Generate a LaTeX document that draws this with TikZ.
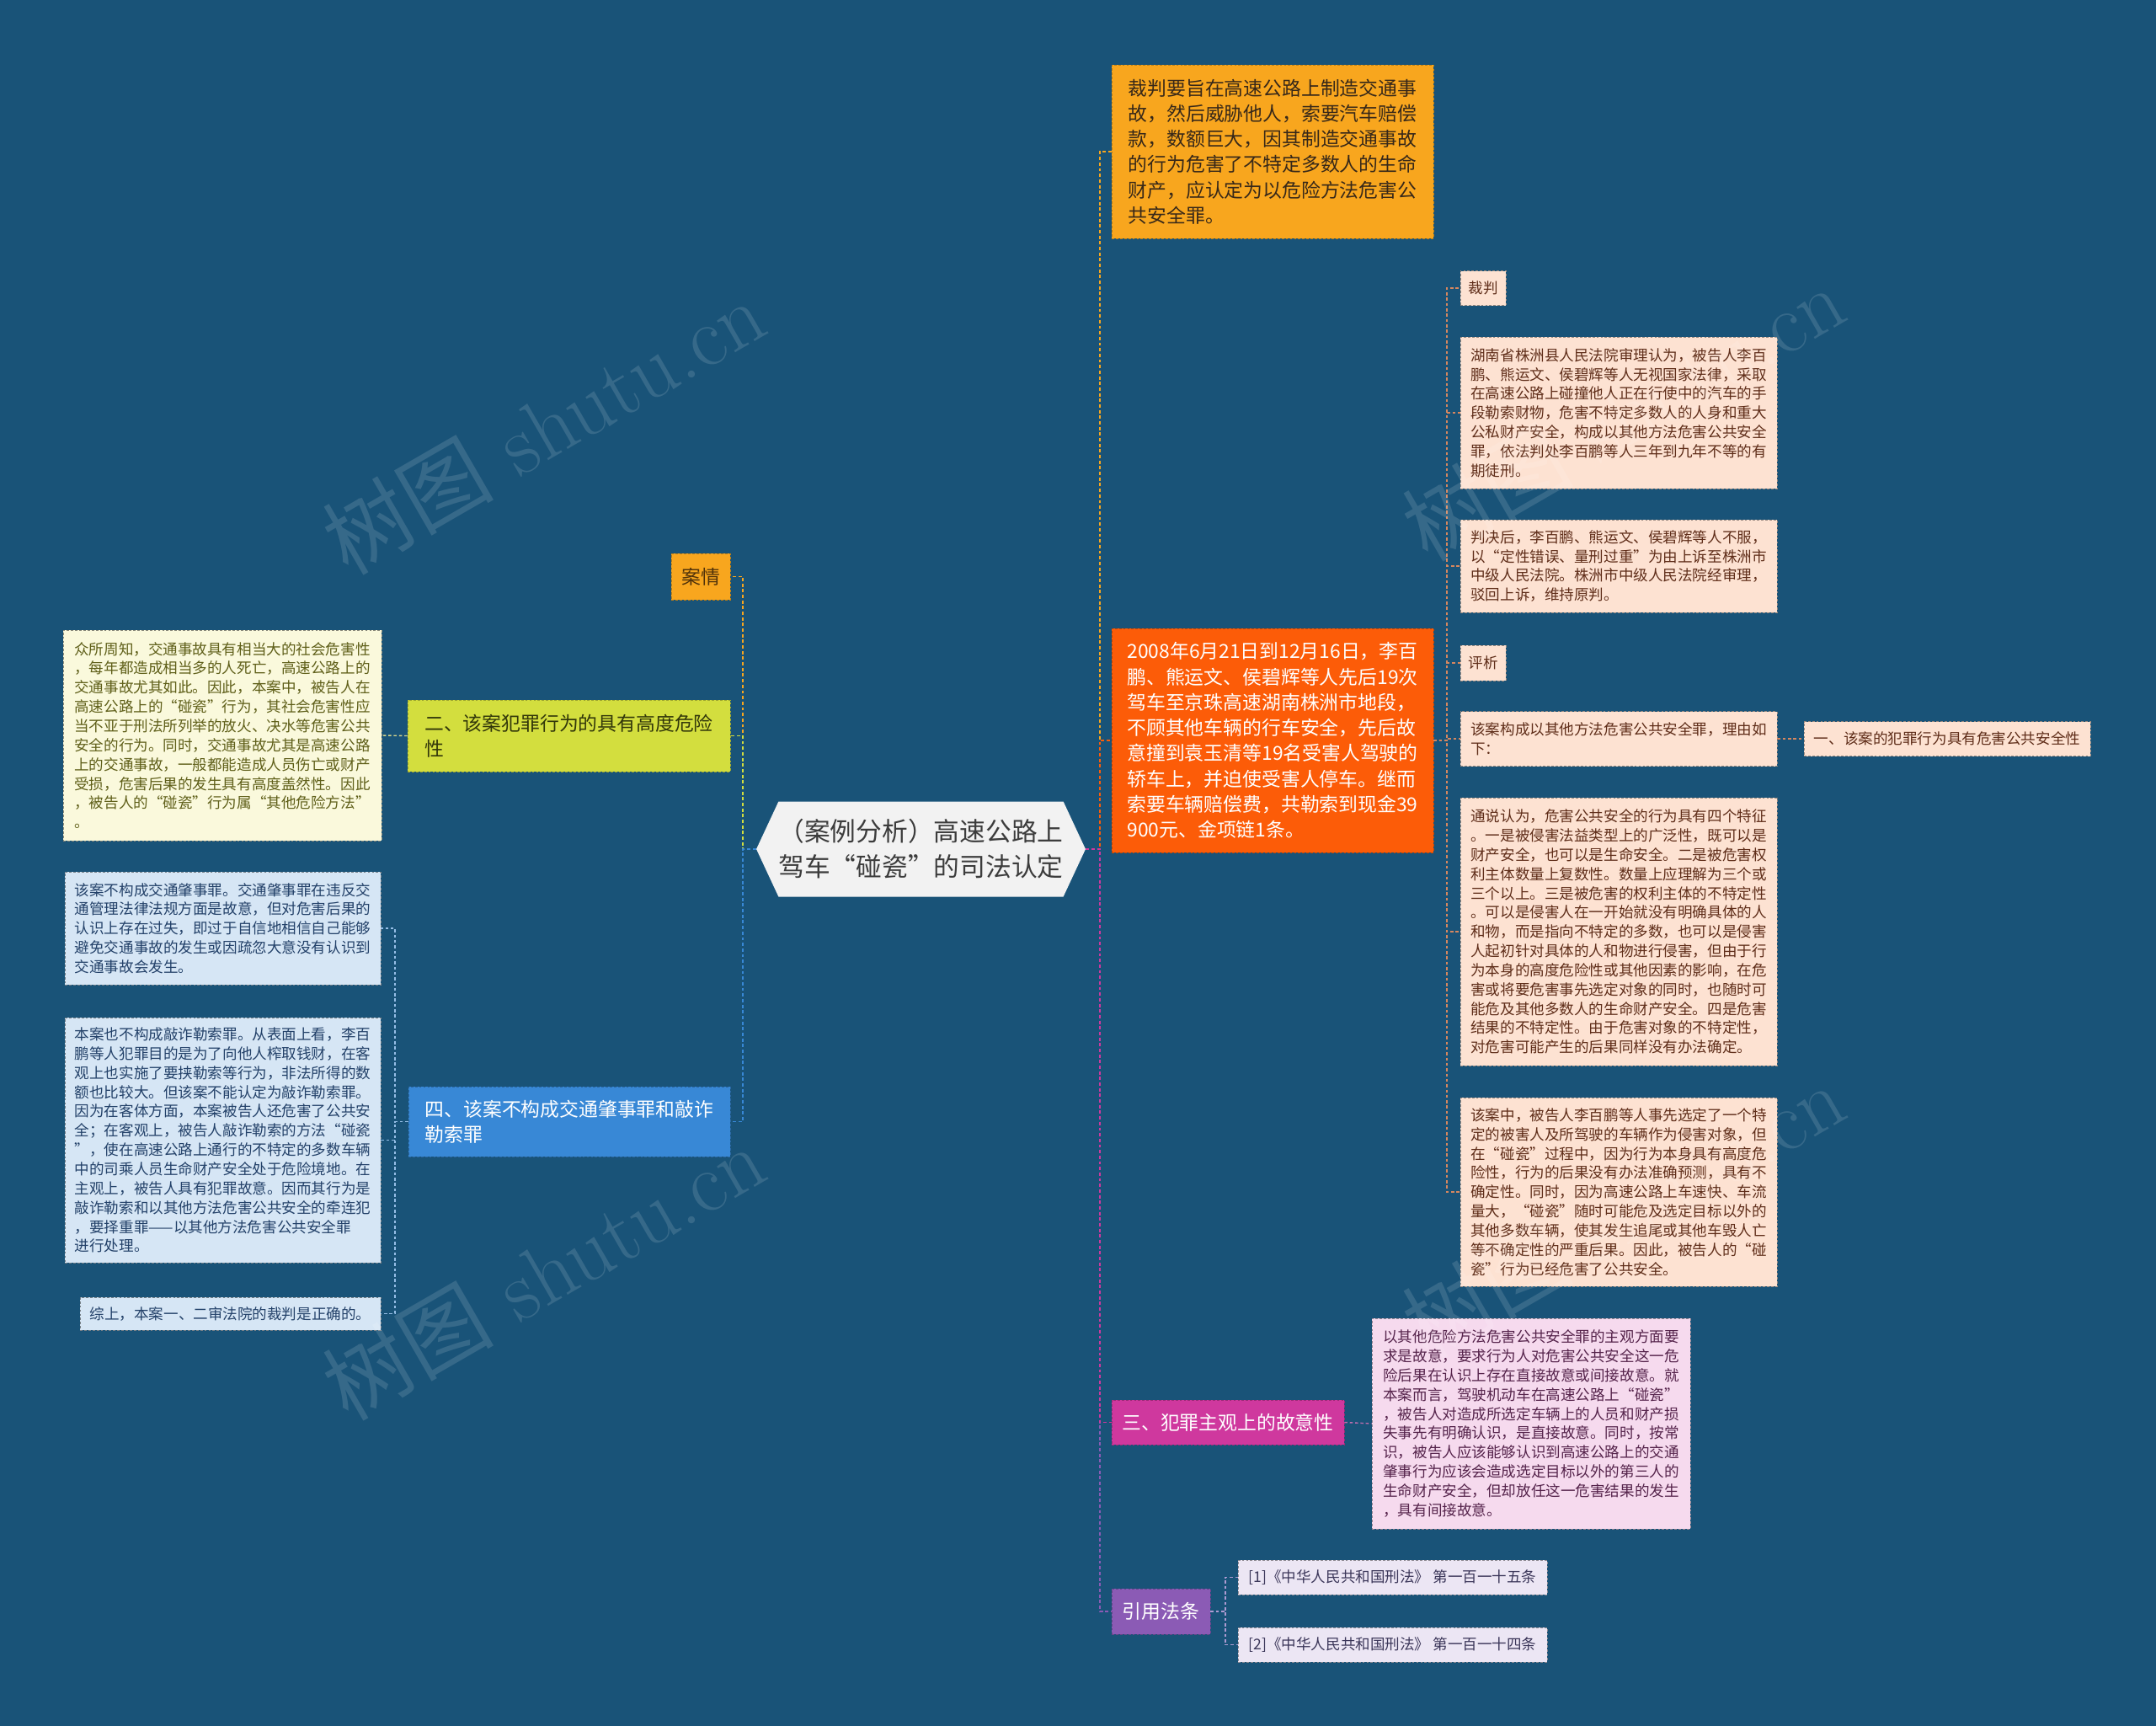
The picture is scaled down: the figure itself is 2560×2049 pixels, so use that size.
\documentclass[tikz,border=0pt]{standalone}
\usepackage{fontspec}
\usepackage{xcolor}
\usepackage{tikz}
\usetikzlibrary{shapes.symbols}
\newfontfamily\cjk{Noto Sans CJK SC}

\definecolor{bgblue}{RGB}{25,83,120}
\definecolor{rootgrey}{RGB}{242,242,242}
\definecolor{gistfill}{RGB}{248,166,30}
\definecolor{casefill}{RGB}{252,92,8}
\definecolor{subjfill}{RGB}{207,56,158}
\definecolor{citefill}{RGB}{139,91,181}
\definecolor{limefill}{RGB}{211,222,62}
\definecolor{bluefill}{RGB}{56,136,214}
\definecolor{peachfill}{RGB}{253,226,210}
\definecolor{pinkfill}{RGB}{246,218,238}
\definecolor{lavfill}{RGB}{236,230,244}
\definecolor{creamfill}{RGB}{250,249,220}
\definecolor{skyfill}{RGB}{214,230,245}

\begin{document}
\begin{tikzpicture}[x=0.02cm, y=-0.02cm,
            % Central topic
            topic/.style={signal, signal to=west and east, signal pointer angle=130,
                    fill=rootgrey, draw=none, inner sep=0pt, align=center,
                    minimum width=7.74cm, minimum height=2.26cm,
                    text={rgb,255:red,60;green,60;blue,60},
                    font=\cjk\fontsize{17.5}{24}\selectfont},
            % Main branches
            branch/.style={draw, dash pattern=on 1.6pt off 1.2pt, line width=0.5pt,
                    inner sep=0pt, align=left, font=\cjk\fontsize{13}{17.2}\selectfont},
            % Detail boxes
            leaf/.style={draw, dash pattern=on 1.6pt off 1.2pt, line width=0.5pt,
                    inner sep=0pt, align=left, font=\cjk\fontsize{10}{13}\selectfont},
            % Connectors
            link/.style={dash pattern=on 2.2pt off 1.6pt, line width=1.1pt},
            sublink/.style={dash pattern=on 2pt off 1.6pt, line width=0.8pt},
            % Site watermark
            watermark/.style={rotate=30, text=white, opacity=0.13,
                    font=\fontsize{58}{58}\selectfont}
        ]

        % Background and page size
        \fill[bgblue] (0,0) rectangle (2560,2049);
        \useasboundingbox (0,0) rectangle (2560,2049);

        % Central topic
        \node[topic] (root) at (1093.5, 1008)
            {（案例分析）高速公路上\\驾车“碰瓷”的司法认定};

        % Right branches
        \node[branch, fill=gistfill, draw=gistfill!75!black,
              text={rgb,255:red,55;green,40;blue,25},
              minimum width=7.64cm, minimum height=4.12cm] (gist) at (1511, 180)
            {裁判要旨在高速公路上制造交通事\\故，然后威胁他人，索要汽车赔偿\\款，数额巨大，因其制造交通事故\\的行为危害了不特定多数人的生命\\财产，应认定为以危险方法危害公\\共安全罪。};

        \node[branch, fill=casefill, draw=casefill!75!black, text=white,
              minimum width=7.64cm, minimum height=5.32cm] (case) at (1511, 879)
            {2008年6月21日到12月16日，李百\\鹏、熊运文、侯碧辉等人先后19次\\驾车至京珠高速湖南株洲市地段，\\不顾其他车辆的行车安全，先后故\\意撞到袁玉清等19名受害人驾驶的\\轿车上，并迫使受害人停车。继而\\索要车辆赔偿费，共勒索到现金39\\900元、金项链1条。};

        \node[branch, fill=subjfill, draw=subjfill!75!black, text=white,
              minimum width=5.52cm, minimum height=1.06cm] (subj) at (1458, 1688.5)
            {三、犯罪主观上的故意性};

        \node[branch, fill=citefill, draw=citefill!75!black, text=white,
              minimum width=2.34cm, minimum height=1.08cm] (cite) at (1378.5, 1913)
            {引用法条};

        % Left branches
        \node[branch, fill=gistfill, draw=gistfill!75!black,
              text={rgb,255:red,80;green,50;blue,10},
              minimum width=1.4cm, minimum height=1.1cm] (facts) at (832, 684.5)
            {案情};

        \node[branch, fill=limefill, draw=limefill!75!black,
              text={rgb,255:red,50;green,55;blue,10},
              minimum width=7.66cm, minimum height=1.7cm] (danger) at (675.5, 873.5)
            {二、该案犯罪行为的具有高度危险\\性};

        \node[branch, fill=bluefill, draw=bluefill!75!black, text=white,
              minimum width=7.64cm, minimum height=1.66cm] (notcrime) at (676, 1331.5)
            {四、该案不构成交通肇事罪和敲诈\\勒索罪};

        % Details of the case box
        \begin{scope}[every node/.style={leaf, fill=peachfill, draw=peachfill!60!black,
                    text={rgb,255:red,95;green,45;blue,25}}]
            \node[minimum width=1.08cm, minimum height=0.82cm] (verdict) at (1761, 342) {裁判};
            \node[minimum width=7.52cm, minimum height=3.6cm] (first) at (1922, 490)
                {湖南省株洲县人民法院审理认为，被告人李百\\鹏、熊运文、侯碧辉等人无视国家法律，采取\\在高速公路上碰撞他人正在行使中的汽车的手\\段勒索财物，危害不特定多数人的人身和重大\\公私财产安全，构成以其他方法危害公共安全\\罪，依法判处李百鹏等人三年到九年不等的有\\期徒刑。};
            \node[minimum width=7.52cm, minimum height=2.2cm] (appeal) at (1922, 672)
                {判决后，李百鹏、熊运文、侯碧辉等人不服，\\以“定性错误、量刑过重”为由上诉至株洲市\\中级人民法院。株洲市中级人民法院经审理，\\驳回上诉，维持原判。};
            \node[minimum width=1.08cm, minimum height=0.84cm] (review) at (1761, 787) {评析};
            \node[minimum width=7.52cm, minimum height=1.3cm] (holds) at (1922, 877)
                {该案构成以其他方法危害公共安全罪，理由如\\下：};
            \node[minimum width=6.8cm, minimum height=0.82cm] (one) at (2312, 877)
                {一、该案的犯罪行为具有危害公共安全性};
            \node[minimum width=7.52cm, minimum height=6.36cm] (traits) at (1922, 1106)
                {通说认为，危害公共安全的行为具有四个特征\\。一是被侵害法益类型上的广泛性，既可以是\\财产安全，也可以是生命安全。二是被危害权\\利主体数量上复数性。数量上应理解为三个或\\三个以上。三是被危害的权利主体的不特定性\\。可以是侵害人在一开始就没有明确具体的人\\和物，而是指向不特定的多数，也可以是侵害\\人起初针对具体的人和物进行侵害，但由于行\\为本身的高度危险性或其他因素的影响，在危\\害或将要危害事先选定对象的同时，也随时可\\能危及其他多数人的生命财产安全。四是危害\\结果的不特定性。由于危害对象的不特定性，\\对危害可能产生的后果同样没有办法确定。};
            \node[minimum width=7.52cm, minimum height=4.48cm] (thiscase) at (1922, 1415)
                {该案中，被告人李百鹏等人事先选定了一个特\\定的被害人及所驾驶的车辆作为侵害对象，但\\在“碰瓷”过程中，因为行为本身具有高度危\\险性，行为的后果没有办法准确预测，具有不\\确定性。同时，因为高速公路上车速快、车流\\量大，“碰瓷”随时可能危及选定目标以外的\\其他多数车辆，使其发生追尾或其他车毁人亡\\等不确定性的严重后果。因此，被告人的“碰\\瓷”行为已经危害了公共安全。};
        \end{scope}

        % Subjective intent
        \node[leaf, fill=pinkfill, draw=pinkfill!60!black,
              text={rgb,255:red,85;green,35;blue,75},
              minimum width=7.56cm, minimum height=5.0cm] (intent) at (1818, 1690)
            {以其他危险方法危害公共安全罪的主观方面要\\求是故意，要求行为人对危害公共安全这一危\\险后果在认识上存在直接故意或间接故意。就\\本案而言，驾驶机动车在高速公路上“碰瓷”\\，被告人对造成所选定车辆上的人员和财产损\\失事先有明确认识，是直接故意。同时，按常\\识，被告人应该能够认识到高速公路上的交通\\肇事行为应该会造成选定目标以外的第三人的\\生命财产安全，但却放任这一危害结果的发生\\，具有间接故意。};

        % Cited articles
        \node[leaf, fill=lavfill, draw=lavfill!60!black,
              text={rgb,255:red,60;green,55;blue,90},
              minimum width=7.34cm, minimum height=0.82cm] (law1) at (1653.5, 1872.5)
            {[1]《中华人民共和国刑法》 第一百一十五条};
        \node[leaf, fill=lavfill, draw=lavfill!60!black,
              text={rgb,255:red,60;green,55;blue,90},
              minimum width=7.34cm, minimum height=0.82cm] (law2) at (1653.5, 1952.5)
            {[2]《中华人民共和国刑法》 第一百一十四条};

        % High danger detail
        \node[leaf, fill=creamfill, draw=creamfill!55!black,
              text={rgb,255:red,95;green,95;blue,25},
              minimum width=7.56cm, minimum height=5.0cm] (known) at (264, 873)
            {众所周知，交通事故具有相当大的社会危害性\\，每年都造成相当多的人死亡，高速公路上的\\交通事故尤其如此。因此，本案中，被告人在\\高速公路上的“碰瓷”行为，其社会危害性应\\当不亚于刑法所列举的放火、决水等危害公共\\安全的行为。同时，交通事故尤其是高速公路\\上的交通事故，一般都能造成人员伤亡或财产\\受损，危害后果的发生具有高度盖然性。因此\\，被告人的“碰瓷”行为属“其他危险方法”\\。};

        % Not other crimes
        \begin{scope}[every node/.style={leaf, fill=skyfill, draw=skyfill!55!black,
                    text={rgb,255:red,35;green,65;blue,105}}]
            \node[minimum width=7.5cm, minimum height=2.68cm] (traffic) at (264.5, 1102)
                {该案不构成交通肇事罪。交通肇事罪在违反交\\通管理法律法规方面是故意，但对危害后果的\\认识上存在过失，即过于自信地相信自己能够\\避免交通事故的发生或因疏忽大意没有认识到\\交通事故会发生。};
            \node[minimum width=7.5cm, minimum height=5.82cm] (extort) at (264.5, 1353.5)
                {本案也不构成敲诈勒索罪。从表面上看，李百\\鹏等人犯罪目的是为了向他人榨取钱财，在客\\观上也实施了要挟勒索等行为，非法所得的数\\额也比较大。但该案不能认定为敲诈勒索罪。\\因为在客体方面，本案被告人还危害了公共安\\全；在客观上，被告人敲诈勒索的方法“碰瓷\\”，使在高速公路上通行的不特定的多数车辆\\中的司乘人员生命财产安全处于危险境地。在\\主观上，被告人具有犯罪故意。因而其行为是\\敲诈勒索和以其他方法危害公共安全的牵连犯\\，要择重罪——以其他方法危害公共安全罪\\进行处理。};
            \node[minimum width=7.14cm, minimum height=0.78cm] (summary) at (273.5, 1559.5)
                {综上，本案一、二审法院的裁判是正确的。};
        \end{scope}

        % Trunk points
        \coordinate (ltrunk) at (882, 1008);
        \coordinate (rtrunk) at (1306, 1008);
        \coordinate (ctrunk) at (1718, 879);
        \coordinate (ntrunk) at (469, 1331.5);
        \coordinate (ctrunk2) at (1455, 1913);

        % Main connectors
        \draw[link, draw=gistfill] (root.west) -- (ltrunk) |- (facts.east);
        \draw[link, draw=limefill] (root.west) -- (ltrunk) |- (danger.east);
        \draw[link, draw=bluefill] (root.west) -- (ltrunk) |- (notcrime.east);
        \draw[link, draw=gistfill] (root.east) -- (rtrunk) |- (gist.west);
        \draw[link, draw=casefill] (root.east) -- (rtrunk) |- (case.west);
        \draw[link, draw=citefill] (root.east) -- (rtrunk) |- (cite.west);
        \draw[link, draw=subjfill] (root.east) -- (rtrunk) |- (subj.west);

        % Detail connectors
        \foreach \n in {verdict, first, appeal, review, holds, traits, thiscase}
            \draw[sublink, draw={rgb,255:red,215;green,135;blue,95}] (case.east) -- (ctrunk) |- (\n.west);
        \draw[sublink, draw={rgb,255:red,215;green,135;blue,95}] (holds.east) -- (one.west);
        \draw[sublink, draw={rgb,255:red,190;green,110;blue,175}] (subj.east) -- (intent.west);
        \foreach \n in {law1, law2}
            \draw[sublink, draw={rgb,255:red,175;green,155;blue,210}] (cite.east) -- (ctrunk2) |- (\n.west);
        \draw[sublink, draw={rgb,255:red,215;green,215;blue,140}] (danger.west) -- (known.east);
        \foreach \n in {traffic, extort, summary}
            \draw[sublink, draw={rgb,255:red,150;green,190;blue,230}] (notcrime.west) -- (ntrunk) |- (\n.east);

        % Watermarks
        \foreach \wx/\wy [count=\i] in {645/506, 1927/490, 645/1510, 1927/1437}
            \node[watermark] (wm\i) at (\wx, \wy) {{\cjk 树图} shutu.cn};

    \end{tikzpicture}
\end{document}
